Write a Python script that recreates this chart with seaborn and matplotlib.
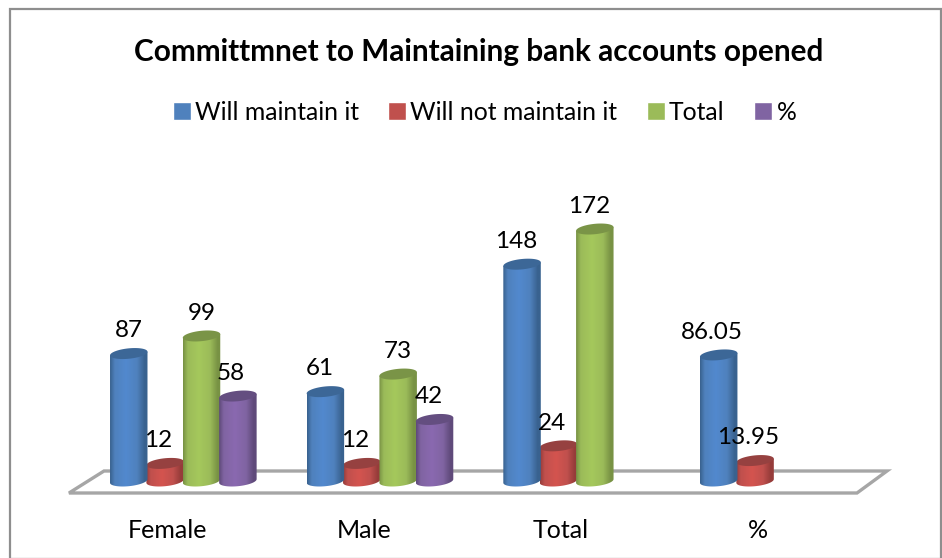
import numpy as np
import pandas as pd
import matplotlib
matplotlib.use("Agg")
import matplotlib.pyplot as plt
from matplotlib.colors import LinearSegmentedColormap
from matplotlib.patches import Polygon, Rectangle
from matplotlib.transforms import ScaledTranslation
import seaborn as sns

categories = ["Female", "Male", "Total", "%"]
will_maintain = [87, 61, 148, 86.05]
will_not_maintain = [12, 12, 24, 13.95]
total = [99, 73, 172, np.nan]
percent = [58, 42, np.nan, np.nan]

series_names = ["Will maintain it", "Will not maintain it", "Total", "%"]
series_colors = ["#4F81BD", "#C0504D", "#9BBB59", "#8064A2"]
series_dark = ["#39628F", "#963C3A", "#789244", "#5F4A7A"]
series_light = ["#5289CE", "#D4544F", "#A5C85C", "#8A69B0"]
series_cap = ["#3C6797", "#964140", "#7A9447", "#644E80"]

# Horizontal label shift in pixels, per series and category
label_shift = [[0, -6, -6, -7], [-7, -7, -6, -7], [0, 0, -6, 0], [-7, -6, 0, 0]]

W, H = 942, 558
sns.set_theme(style="white")
plt.rcParams["font.family"] = ["Lato", "DejaVu Sans"]

fig = plt.figure(figsize=(W / 100, H / 100), dpi=100, facecolor="white")


def fig_xy(x, y):
    return x / W, 1 - y / H


# Plot area: value 0 sits on y=481 px, 1 unit is about 1.465 px
PX_PER_UNIT = 1.465
left, right = 85.0, 871.6
y_base, y_top = 481, 181
ax = fig.add_axes([left / W, 1 - y_base / H, (right - left) / W, (y_base - y_top) / H])
ax.patch.set_visible(False)

# Outer chart frame and the floor under the columns
fig.add_artist(Rectangle(fig_xy(9.5, 559), (W - 10.5) / W, (559 - 8.5) / H, transform=fig.transFigure,
                         fill=False, edgecolor="#8E8E8E", linewidth=1.6, zorder=-2))
floor = [fig_xy(69, 493), fig_xy(104, 471), fig_xy(887, 471), fig_xy(857, 493)]
fig.add_artist(Polygon(floor, closed=True, transform=fig.transFigure, facecolor="white",
                       edgecolor="#A6A6A6", linewidth=2.4, zorder=-1))

frame = pd.DataFrame({
    "Category": np.tile(categories, 4),
    "Series": np.repeat(series_names, 4),
    "Value": np.concatenate([will_maintain, will_not_maintain, total, percent]),
}).dropna()

sns.barplot(data=frame, x="Category", y="Value", hue="Series", order=categories,
            hue_order=series_names, palette=series_colors, saturation=1,
            width=0.74, gap=0, errorbar=None, ax=ax)

ylim = (0, (y_base - y_top) / PX_PER_UNIT)
xlim = (-0.5, 3.5)
cap_half = 5.2 / PX_PER_UNIT
cap_skew = 1.8 / PX_PER_UNIT
theta = np.linspace(0, 2 * np.pi, 90)
stops = np.array([0.0, 0.12, 0.42, 0.72, 0.92, 1.0])

for s, container in enumerate(ax.containers):
    cmap = LinearSegmentedColormap.from_list(
        f"cyl{s}",
        list(zip(stops, [series_dark[s], series_colors[s], series_light[s],
                         series_colors[s], series_dark[s], series_dark[s]])),
    )
    z_body = {0: 3, 1: 2, 2: 4, 3: 5}[s]
    for patch in container:
        value = patch.get_height()
        if not np.isfinite(value) or value == 0:
            continue
        patch.set_visible(False)
        cx = patch.get_x() + patch.get_width() / 2
        half = patch.get_width() / 2 * 1.03
        c = int(round(cx))

        # Column outline: the straight sides joined by the lower half of the base ellipse
        t = np.linspace(0, np.pi, 40)
        base_x = cx - half * np.cos(t)
        base_y = -cap_half * np.sin(t) + cap_skew * (-np.cos(t))
        body = np.vstack([[cx - half, value - cap_skew], *zip(base_x, base_y), [cx + half, value + cap_skew]])
        clip = Polygon(body, closed=True, transform=ax.transData, facecolor="none", edgecolor="none",
                       clip_on=False)
        ax.add_patch(clip)
        img = ax.imshow(np.linspace(0, 1, 64)[None, :], cmap=cmap, aspect="auto",
                        extent=(cx - half, cx + half, -cap_half - cap_skew, value + cap_skew),
                        interpolation="bilinear", zorder=z_body)
        # The rounded base hangs below value 0, so only the outline limits the image
        img.set_clip_box(fig.bbox)
        img.set_clip_path(clip)

        # Darker top face, tilted slightly like the base
        cap = np.column_stack([cx + half * np.cos(theta),
                               value + cap_half * np.sin(theta) + cap_skew * np.cos(theta)])
        ax.add_patch(Polygon(cap, closed=True, facecolor=series_cap[s], edgecolor="none",
                             zorder=z_body + 0.1, clip_on=False))

        ax.annotate(f"{value:g}", (cx, value), xytext=(label_shift[s][c] * 0.72, 16.4),
                    textcoords="offset points", ha="center", va="center",
                    fontsize=17.5, color="black", zorder=10, annotation_clip=False)

ax.set_xlim(*xlim)
ax.set_ylim(*ylim)
ax.set_xlabel("")
ax.set_ylabel("")
ax.set_yticks([])
ax.tick_params(axis="x", length=0, pad=27, labelsize=18, labelcolor="black")
shift = ScaledTranslation(-15.5 / 100, 0, fig.dpi_scale_trans)
for tick in ax.get_xticklabels():
    tick.set_transform(tick.get_transform() + shift)
sns.despine(ax=ax, left=True, bottom=True)

handles, labels = ax.get_legend_handles_labels()
ax.get_legend().remove()
fig.legend(handles, labels, ncol=4, loc="center", bbox_to_anchor=(484.5 / W, 1 - 112 / H),
           frameon=False, fontsize=17.8, handlelength=0.72, handleheight=0.72,
           handletextpad=0.17, columnspacing=1.2, borderpad=0, labelcolor="black")

fig.text(479 / W, 1 - 52 / H, "Committmnet to Maintaining bank accounts opened",
         ha="center", va="center", fontsize=21.4, fontweight="bold", color="black")

fig.savefig("out.png", dpi=100)
